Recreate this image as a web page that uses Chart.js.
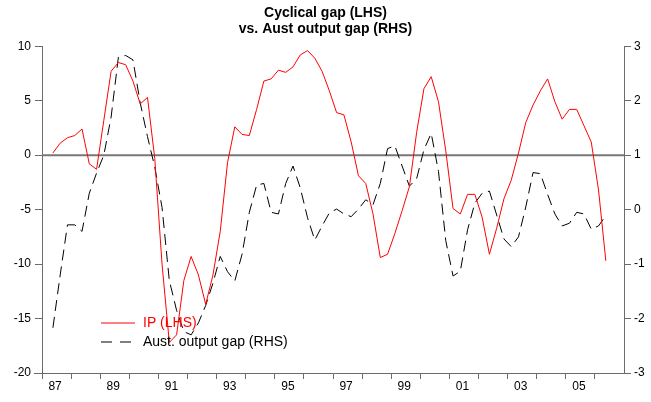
<!DOCTYPE html>
<html>
<head>
<meta charset="utf-8">
<script src="https://cdn.jsdelivr.net/npm/chart.js@4.4.0/dist/chart.umd.min.js"></script>
<style>
    html, body { margin: 0; padding: 0; background: #fff; }
    #caja { width: 651px; height: 402px; }
</style>
</head>
<body>
<div id="caja"><canvas id="grafica" width="651" height="402"></canvas></div>
<script>
// trimestres 1987Q2 - 2006Q2
const trimestres = [];
for (let a = 1987; a <= 2006; a++) {
    for (let q = 1; q <= 4; q++) {
        if ((a === 1987 && q < 2) || (a === 2006 && q > 2)) continue;
        trimestres.push(a + 'Q' + q);
    }
}

// IP cyclical gap (LHS)
const ipGap = [
    0.2, 1.1, 1.6, 1.8, 2.4, -0.8, -1.3, 3.2, 7.7, 8.5, 8.3, 6.8, 4.7,
    5.3, -0.3, -10.0, -17.2, -16.5, -11.5, -9.3, -11.0, -13.7, -11.0, -7.0,
    -0.7, 2.6, 1.9, 1.8, 4.2, 6.8, 7.0, 7.8, 7.6, 8.1, 9.2, 9.6, 8.9,
    7.7, 5.9, 3.9, 3.7, 1.2, -1.9, -2.6, -5.4, -9.4, -9.1, -7.2, -5.1,
    -2.9, 2.1, 6.1, 7.2, 4.9, 0.4, -4.9, -5.4, -3.6, -3.6, -5.7, -9.1,
    -6.7, -4.0, -2.3, 0.2, 3.0, 4.6, 5.9, 7.0, 4.9, 3.3, 4.2, 4.2,
    2.7, 1.2, -3.2, -9.7
];

// Aust. output gap (RHS)
const outputGap = [
    -2.17, -1.2, -0.28, -0.28, -0.4, 0.3, 0.67, 1.0, 1.7, 2.8, 2.83, 2.75, 1.96,
    1.34, 0.78, 0.04, -1.3, -1.85, -2.24, -2.3, -2.08, -1.76, -1.35, -0.86,
    -1.14, -1.31, -0.82, -0.05, 0.45, 0.48, -0.05, -0.08, 0.48, 0.8, 0.4, -0.15, -0.56,
    -0.3, -0.06, 0.01, -0.08, -0.13, 0.01, 0.18, 0.09, 0.48, 1.12, 1.17, 0.8,
    0.43, 0.57, 1.1, 1.4, 0.7, -0.57, -1.22, -1.13, -0.37, 0.12, 0.3, 0.34,
    -0.1, -0.54, -0.68, -0.5, 0.05, 0.68, 0.66, 0.28, -0.08, -0.3, -0.25, -0.05,
    -0.08, -0.36, -0.3, -0.11
];

const anioInicio = 1987;
const anioFin = 2007;
const aniosEtiqueta = [1987, 1989, 1991, 1993, 1995, 1997, 1999, 2001, 2003, 2005];
const ticksIzq = [-20, -15, -10, -5, 0, 5, 10];
const ticksDer = [-3, -2, -1, 0, 1, 2, 3];

const fuente = '"Liberation Sans", Arial, sans-serif';
const gris = '#6b6b6b';

function aDecimal(t) {
    const [a, q] = t.split('Q').map(Number);
    return a + (q - 1) / 4 + 0.125;
}

const puntos = arr => arr.map((v, i) => ({ x: aDecimal(trimestres[i]), y: v }));

// leyenda dentro del area + eje x un poco mas largo a la izquierda
const leyenda = {
    id: 'leyenda',
    afterDatasetsDraw(chart) {
        const c = chart.ctx;
        const area = chart.chartArea;
        c.save();
        c.strokeStyle = gris;
        c.lineWidth = 1;
        c.beginPath();
        c.moveTo(area.left - 8, area.bottom + 0.5);
        c.lineTo(area.left, area.bottom + 0.5);
        c.stroke();

        c.font = '14px ' + fuente;
        c.textBaseline = 'middle';

        c.strokeStyle = '#ff0000';
        c.beginPath();
        c.moveTo(101, 323);
        c.lineTo(135, 323);
        c.stroke();
        c.fillStyle = '#ff0000';
        c.fillText('IP (LHS)', 143, 323);

        c.strokeStyle = '#000';
        c.setLineDash([11, 8]);
        c.beginPath();
        c.moveTo(101, 342);
        c.lineTo(131, 342);
        c.stroke();
        c.setLineDash([]);
        c.fillStyle = '#000';
        c.fillText('Aust. output gap (RHS)', 143, 342);
        c.restore();
    }
};

new Chart(document.getElementById('grafica'), {
    type: 'line',
    data: {
        datasets: [
            {
                label: 'IP (LHS)',
                data: puntos(ipGap),
                yAxisID: 'y',
                borderColor: '#ff0000',
                borderWidth: 1,
                pointRadius: 0,
                tension: 0,
                order: 1
            },
            {
                label: 'Aust. output gap (RHS)',
                data: puntos(outputGap),
                yAxisID: 'y2',
                borderColor: '#000',
                borderWidth: 1,
                borderDash: [11, 6],
                pointRadius: 0,
                tension: 0,
                order: 2
            },
            {
                label: 'cero',
                data: [{ x: anioInicio, y: 0 }, { x: anioFin, y: 0 }],
                yAxisID: 'y',
                borderColor: '#777',
                borderWidth: 2,
                pointRadius: 0,
                order: 3
            }
        ]
    },
    options: {
        responsive: false,
        devicePixelRatio: 1,
        animation: false,
        layout: { padding: 0 },
        plugins: {
            legend: { display: false },
            tooltip: { enabled: false },
            title: {
                display: true,
                text: ['Cyclical gap (LHS)', 'vs. Aust output gap (RHS)'],
                color: '#000',
                font: { family: fuente, size: 14, weight: 'bold', lineHeight: 1.15 },
                padding: { top: 5, bottom: 9 }
            }
        },
        scales: {
            x: {
                type: 'linear',
                min: anioInicio,
                max: anioFin,
                afterBuildTicks: s => {
                    const t = [];
                    for (let a = anioInicio; a < anioFin; a++) t.push({ value: a });
                    aniosEtiqueta.forEach(a => t.push({ value: a + 0.45 }));
                    t.sort((p, q) => p.value - q.value);
                    s.ticks = t;
                },
                afterFit: s => { s.height = 29; },
                grid: {
                    drawOnChartArea: false,
                    tickLength: 6,
                    color: ctx => Number.isInteger(ctx.tick && ctx.tick.value) ? gris : 'rgba(0,0,0,0)'
                },
                border: { color: gris, width: 1 },
                ticks: {
                    autoSkip: false,
                    maxRotation: 0,
                    padding: 0,
                    color: '#000',
                    font: { family: fuente, size: 12 },
                    callback: v => Number.isInteger(v) ? '' : String(Math.floor(v)).slice(2)
                }
            },
            y: {
                position: 'left',
                min: -20,
                max: 10,
                afterBuildTicks: s => { s.ticks = ticksIzq.map(v => ({ value: v })); },
                afterFit: s => { s.width = 42; },
                grid: { drawOnChartArea: false, tickLength: 7, color: gris },
                border: { color: gris, width: 1 },
                ticks: { color: '#000', padding: 4, font: { family: fuente, size: 12 } }
            },
            y2: {
                position: 'right',
                min: -3,
                max: 3,
                afterBuildTicks: s => { s.ticks = ticksDer.map(v => ({ value: v })); },
                afterFit: s => { s.width = 27; },
                grid: { drawOnChartArea: false, tickLength: 7, color: gris },
                border: { color: gris, width: 1 },
                ticks: { color: '#000', padding: 3, font: { family: fuente, size: 12 } }
            }
        }
    },
    plugins: [leyenda]
});
</script>
</body>
</html>
